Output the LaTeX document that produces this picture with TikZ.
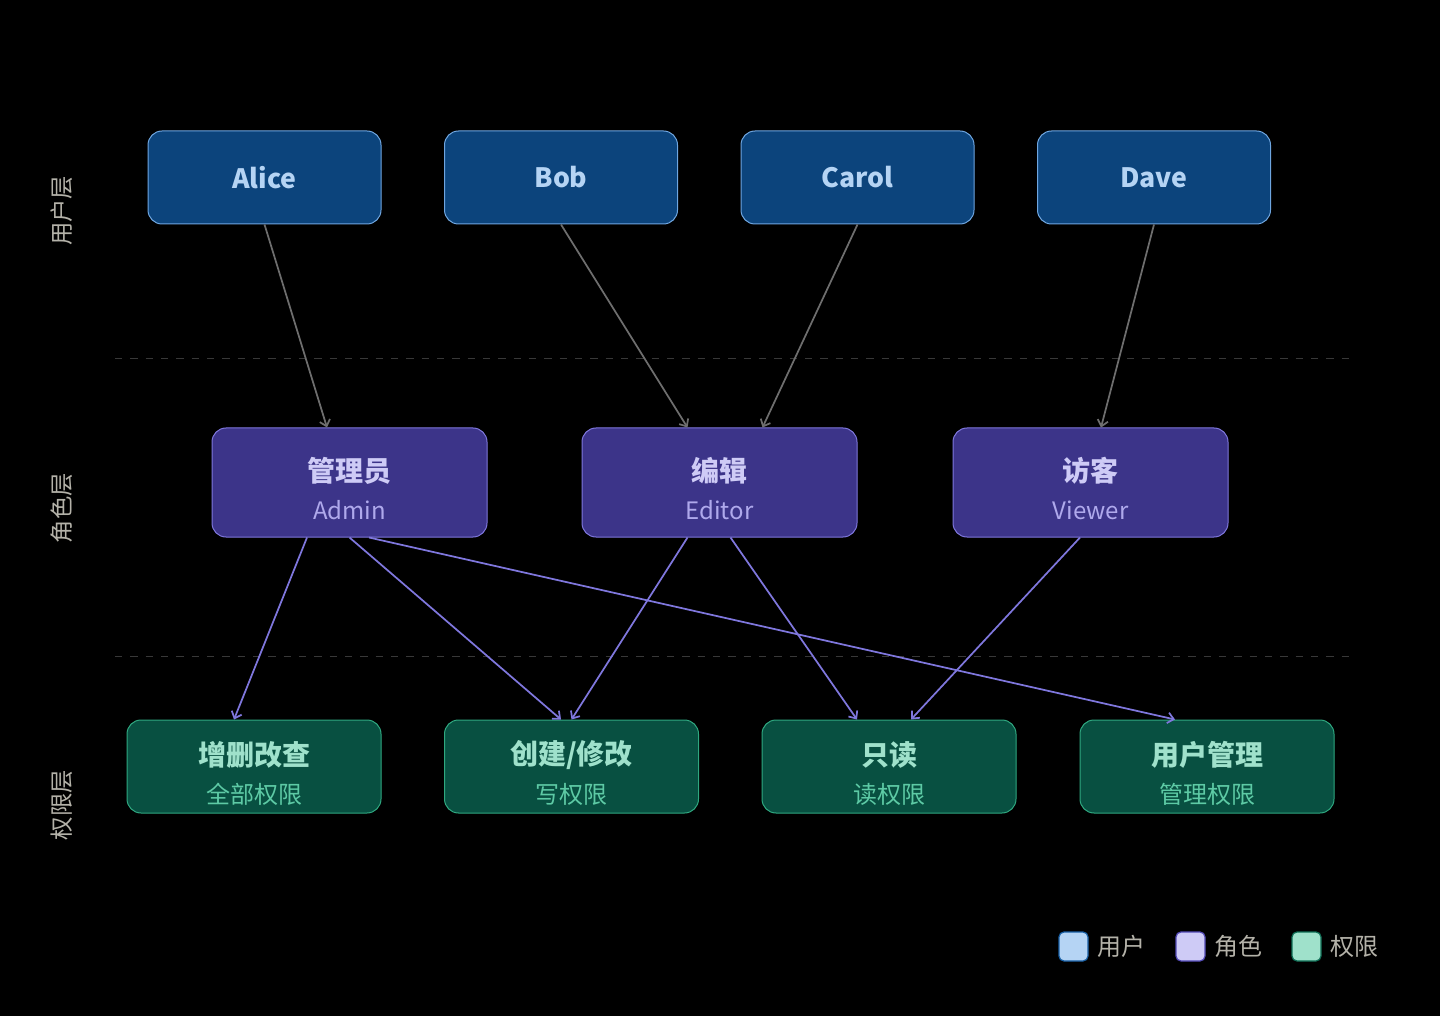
\documentclass[tikz,border=0pt]{standalone}
\usepackage{fontspec}
\setmainfont{Noto Sans CJK SC}
\usetikzlibrary{arrows.meta,calc}
\definecolor{userfill}{HTML}{0C447C}
\definecolor{userline}{HTML}{6FA6E0}
\definecolor{usertext}{HTML}{B5D4F4}
\definecolor{userkey}{HTML}{185FA5}
\definecolor{rolefill}{HTML}{3C3489}
\definecolor{roleline}{HTML}{7F77DD}
\definecolor{roletext}{HTML}{CECBF6}
\definecolor{rolesub}{HTML}{AFA9EC}
\definecolor{rolekey}{HTML}{534AB7}
\definecolor{permfill}{HTML}{085041}
\definecolor{permline}{HTML}{2FA880}
\definecolor{permtext}{HTML}{9FE1CB}
\definecolor{permsub}{HTML}{5DCAA5}
\definecolor{permkey}{HTML}{0F6E56}
\definecolor{layertext}{HTML}{B4B2A9}
\definecolor{uedgecol}{HTML}{6E6E6E}
\definecolor{sepcol}{HTML}{383838}
\tikzset{
  userbox/.style={draw=userline, line width=0.75pt, fill=userfill, rounded corners=10.5pt,
    minimum width=174.75pt, minimum height=69.75pt, inner sep=0pt,
    text=usertext, font=\fontsize{20}{24}\selectfont\bfseries},
  rolebox/.style={draw=roleline, line width=0.75pt, fill=rolefill, rounded corners=10.5pt,
    minimum width=206.25pt, minimum height=81.75pt, inner sep=0pt},
  permbox/.style={draw=permline, line width=0.75pt, fill=permfill, rounded corners=10.5pt,
    minimum width=190.5pt, minimum height=69.75pt, inner sep=0pt},
  roletitle/.style={text=roletext, inner sep=0pt, font=\fontsize{21}{25}\selectfont\bfseries},
  rolename/.style={text=rolesub, inner sep=0pt, font=\fontsize{18}{22}\selectfont},
  permtitle/.style={text=permtext, inner sep=0pt, font=\fontsize{21}{25}\selectfont\bfseries},
  permname/.style={text=permsub, inner sep=0pt, font=\fontsize{18}{22}\selectfont},
  layer/.style={rotate=90, text=layertext, inner sep=0pt, font=\fontsize{17.5}{20}\selectfont},
  uedge/.style={draw=uedgecol, line width=1.3pt, -{Straight Barb[length=4.5pt,width=8pt]}},
  redge/.style={draw=roleline, line width=1.3pt, -{Straight Barb[length=4.5pt,width=8pt]}},
  keybox/.style={line width=0.9pt, rounded corners=3.75pt, minimum size=21.75pt, inner sep=0pt},
  keytext/.style={anchor=west, text=layertext, inner sep=0pt, font=\fontsize{18}{20}\selectfont}
}
\begin{document}
\begin{tikzpicture}[x=0.75pt,y=-0.75pt]
  \fill[black] (0,0) rectangle (1440,1016);
  \useasboundingbox (0,0) rectangle (1440,1016);
  % layer separators
  \draw[draw=sepcol, line width=0.75pt, dash pattern=on 5.5pt off 6pt] (115,359) -- (1355,359);
  \draw[draw=sepcol, line width=0.75pt, dash pattern=on 5.5pt off 6pt] (115,656) -- (1355,656);
  \node[layer] (lusers) at (62,211) {用户层};
  \node[layer] (lroles) at (62,508) {角色层};
  \node[layer] (lperms) at (62,805) {权限层};
  % users (blue)
  \node[userbox] (alice) at (264.5,177.5) {\raisebox{-1.5pt}{Alice}};
  \node[userbox] (bob) at (561,177.5) {\raisebox{-1.5pt}{Bob}};
  \node[userbox] (carol) at (857.5,177.5) {\raisebox{-1.5pt}{Carol}};
  \node[userbox] (dave) at (1154,177.5) {\raisebox{-1.5pt}{Dave}};
  % roles (purple)
  \node[rolebox] (admin) at (349.5,482.5) {};
  \node[rolebox] (editor) at (719.5,482.5) {};
  \node[rolebox] (viewer) at (1090.5,482.5) {};
  \node[roletitle] (admint) at ($(admin.center)+(0,-12)$) {管理员};
  \node[rolename] (adminn) at ($(admin.center)+(0,28)$) {Admin};
  \node[roletitle] (editort) at ($(editor.center)+(0,-12)$) {编辑};
  \node[rolename] (editorn) at ($(editor.center)+(0,28)$) {Editor};
  \node[roletitle] (viewert) at ($(viewer.center)+(0,-12)$) {访客};
  \node[rolename] (viewern) at ($(viewer.center)+(0,28)$) {Viewer};
  % permissions (green)
  \node[permbox] (crud) at (254,766.5) {};
  \node[permbox] (write) at (571.5,766.5) {};
  \node[permbox] (readonly) at (889,766.5) {};
  \node[permbox] (usermgmt) at (1207,766.5) {};
  \node[permtitle] (crudt) at ($(crud.center)+(0,-11.5)$) {增删改查};
  \node[permname] (crudn) at ($(crud.center)+(0,27.5)$) {全部权限};
  \node[permtitle] (writet) at ($(write.center)+(0,-11.5)$) {创建/修改};
  \node[permname] (writen) at ($(write.center)+(0,27.5)$) {写权限};
  \node[permtitle] (readonlyt) at ($(readonly.center)+(0,-11.5)$) {只读};
  \node[permname] (readonlyn) at ($(readonly.center)+(0,27.5)$) {读权限};
  \node[permtitle] (usermgmtt) at ($(usermgmt.center)+(0,-11.5)$) {用户管理};
  \node[permname] (usermgmtn) at ($(usermgmt.center)+(0,27.5)$) {管理权限};
  % user -> role
  \draw[uedge] (alice.south) -- ($(admin.north)+(-22.5,0)$);
  \draw[uedge] (bob.south) -- ($(editor.north)+(-32,0)$);
  \draw[uedge] (carol.south) -- ($(editor.north)+(43,0)$);
  \draw[uedge] (dave.south) -- ($(viewer.north)+(10.5,0)$);
  % role -> permission
  \draw[redge] ($(admin.south)+(-42.5,0)$) -- ($(crud.north)+(-20,0)$);
  \draw[redge] (admin.south) -- ($(write.north)+(-10.5,0)$);
  \draw[redge] ($(admin.south)+(19.5,0)$) -- ($(usermgmt.north)+(-32,0)$);
  \draw[redge] ($(editor.south)+(-32,0)$) -- (write.north);
  \draw[redge] ($(editor.south)+(11,0)$) -- ($(readonly.north)+(-32,0)$);
  \draw[redge] ($(viewer.south)+(-10.5,0)$) -- ($(readonly.north)+(22,0)$);
  % legend
  \node[keybox, draw=userkey, fill=usertext] (keyuser) at (1073.5,946.5) {};
  \node[keytext] (keyusert) at (1097,946.5) {用户};
  \node[keybox, draw=rolekey, fill=roletext] (keyrole) at (1190.5,946.5) {};
  \node[keytext] (keyrolet) at (1214,946.5) {角色};
  \node[keybox, draw=permkey, fill=permtext] (keyperm) at (1306.5,946.5) {};
  \node[keytext] (keypermt) at (1330,946.5) {权限};
\end{tikzpicture}
\end{document}
